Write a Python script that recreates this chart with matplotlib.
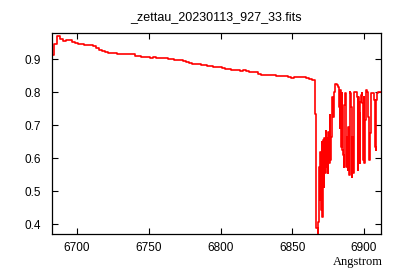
import numpy as np
import matplotlib
matplotlib.use("Agg")
import matplotlib.pyplot as plt

# continuum part, every ~2.1 Angstrom
cont_start = 6682.6
cont_step = 2.0907
cont_flux = [0.912, 0.945, 0.970, 0.960, 0.956, 0.957, 0.958, 0.953, 0.948, 0.946,
             0.945, 0.944, 0.942, 0.943, 0.940, 0.935, 0.929, 0.925, 0.921, 0.919,
             0.919, 0.918, 0.917, 0.916, 0.914, 0.914, 0.915, 0.914, 0.910, 0.910,
             0.907, 0.907, 0.905, 0.904, 0.907, 0.902, 0.902, 0.903, 0.904, 0.900,
             0.899, 0.898, 0.897, 0.897, 0.893, 0.891, 0.887, 0.885, 0.885, 0.884,
             0.882, 0.881, 0.880, 0.878, 0.877, 0.876, 0.875, 0.874, 0.871, 0.869,
             0.867, 0.867, 0.867, 0.865, 0.867, 0.864, 0.862, 0.862, 0.861, 0.856,
             0.852, 0.852, 0.852, 0.852, 0.852, 0.849, 0.849, 0.849, 0.848, 0.845,
             0.842, 0.845, 0.847, 0.847, 0.846, 0.843, 0.840, 0.836]

# O2 B band part, finer sampling
band_start = 6865.63
band_step = 0.4646
band_flux = [0.836, 0.735, 0.495, 0.388, 0.388, 0.374, 0.407,
             0.574, 0.473, 0.619, 0.443, 0.650, 0.422, 0.655, 0.513, 0.660, 0.554,
             0.682, 0.574, 0.660, 0.555, 0.680, 0.585, 0.730, 0.594, 0.664, 0.695,
             0.786, 0.725, 0.725,
             0.800, 0.824, 0.824, 0.824, 0.821, 0.821, 0.816,
             0.756, 0.690, 0.806, 0.634, 0.797, 0.624, 0.609, 0.574, 0.761, 0.797,
             0.752, 0.574, 0.664, 0.564, 0.695, 0.549, 0.801, 0.797, 0.756, 0.543,
             0.664, 0.554, 0.736, 0.801, 0.801, 0.801, 0.801, 0.786, 0.564, 0.786,
             0.736, 0.584, 0.771, 0.791, 0.797, 0.767, 0.594, 0.786, 0.584, 0.715,
             0.797, 0.806, 0.801, 0.776, 0.725, 0.594, 0.604, 0.675, 0.797,
             0.797, 0.797, 0.797, 0.797,
             0.776, 0.634, 0.624, 0.776, 0.797,
             0.799, 0.799, 0.799, 0.799, 0.799, 0.799]

title = "_zettau_20230113_927_33.fits"
xlabel = "Angstrom"
xticks = [6700, 6750, 6800, 6850, 6900]
yticks = [0.4, 0.5, 0.6, 0.7, 0.8, 0.9]

wl = np.concatenate([cont_start + cont_step * np.arange(len(cont_flux)),
                     band_start + band_step * np.arange(len(band_flux))])
flux = np.array(cont_flux + band_flux)

fig = plt.figure(figsize=(4, 2.8), dpi=100)
ax = fig.add_axes([0.13, 0.164, 0.8225, 0.718])
ax.step(wl, flux, where="mid", color="red", lw=1.2)

ax.set_xlim(6682.6, 6911.8)
ax.set_ylim(0.37, 0.979)
ax.set_xticks(xticks)
ax.set_yticks(yticks)
ax.set_yticklabels(["%.1f" % v for v in yticks])
ax.tick_params(direction="in", top=True, right=True, length=4, width=0.8,
               labelsize=8.5)
ax.tick_params(axis="x", pad=6)
ax.tick_params(axis="y", pad=8)
for lab in ax.get_xticklabels() + ax.get_yticklabels():
    lab.set_family("Liberation Sans")
for s in ax.spines.values():
    s.set_linewidth(0.9)

ax.set_title(title, fontsize=9, family="Liberation Sans", pad=9)
fig.text(0.958, 0.065, xlabel, ha="right", va="center", fontsize=9,
         family="Liberation Serif")

fig.savefig("out.png", dpi=100)
